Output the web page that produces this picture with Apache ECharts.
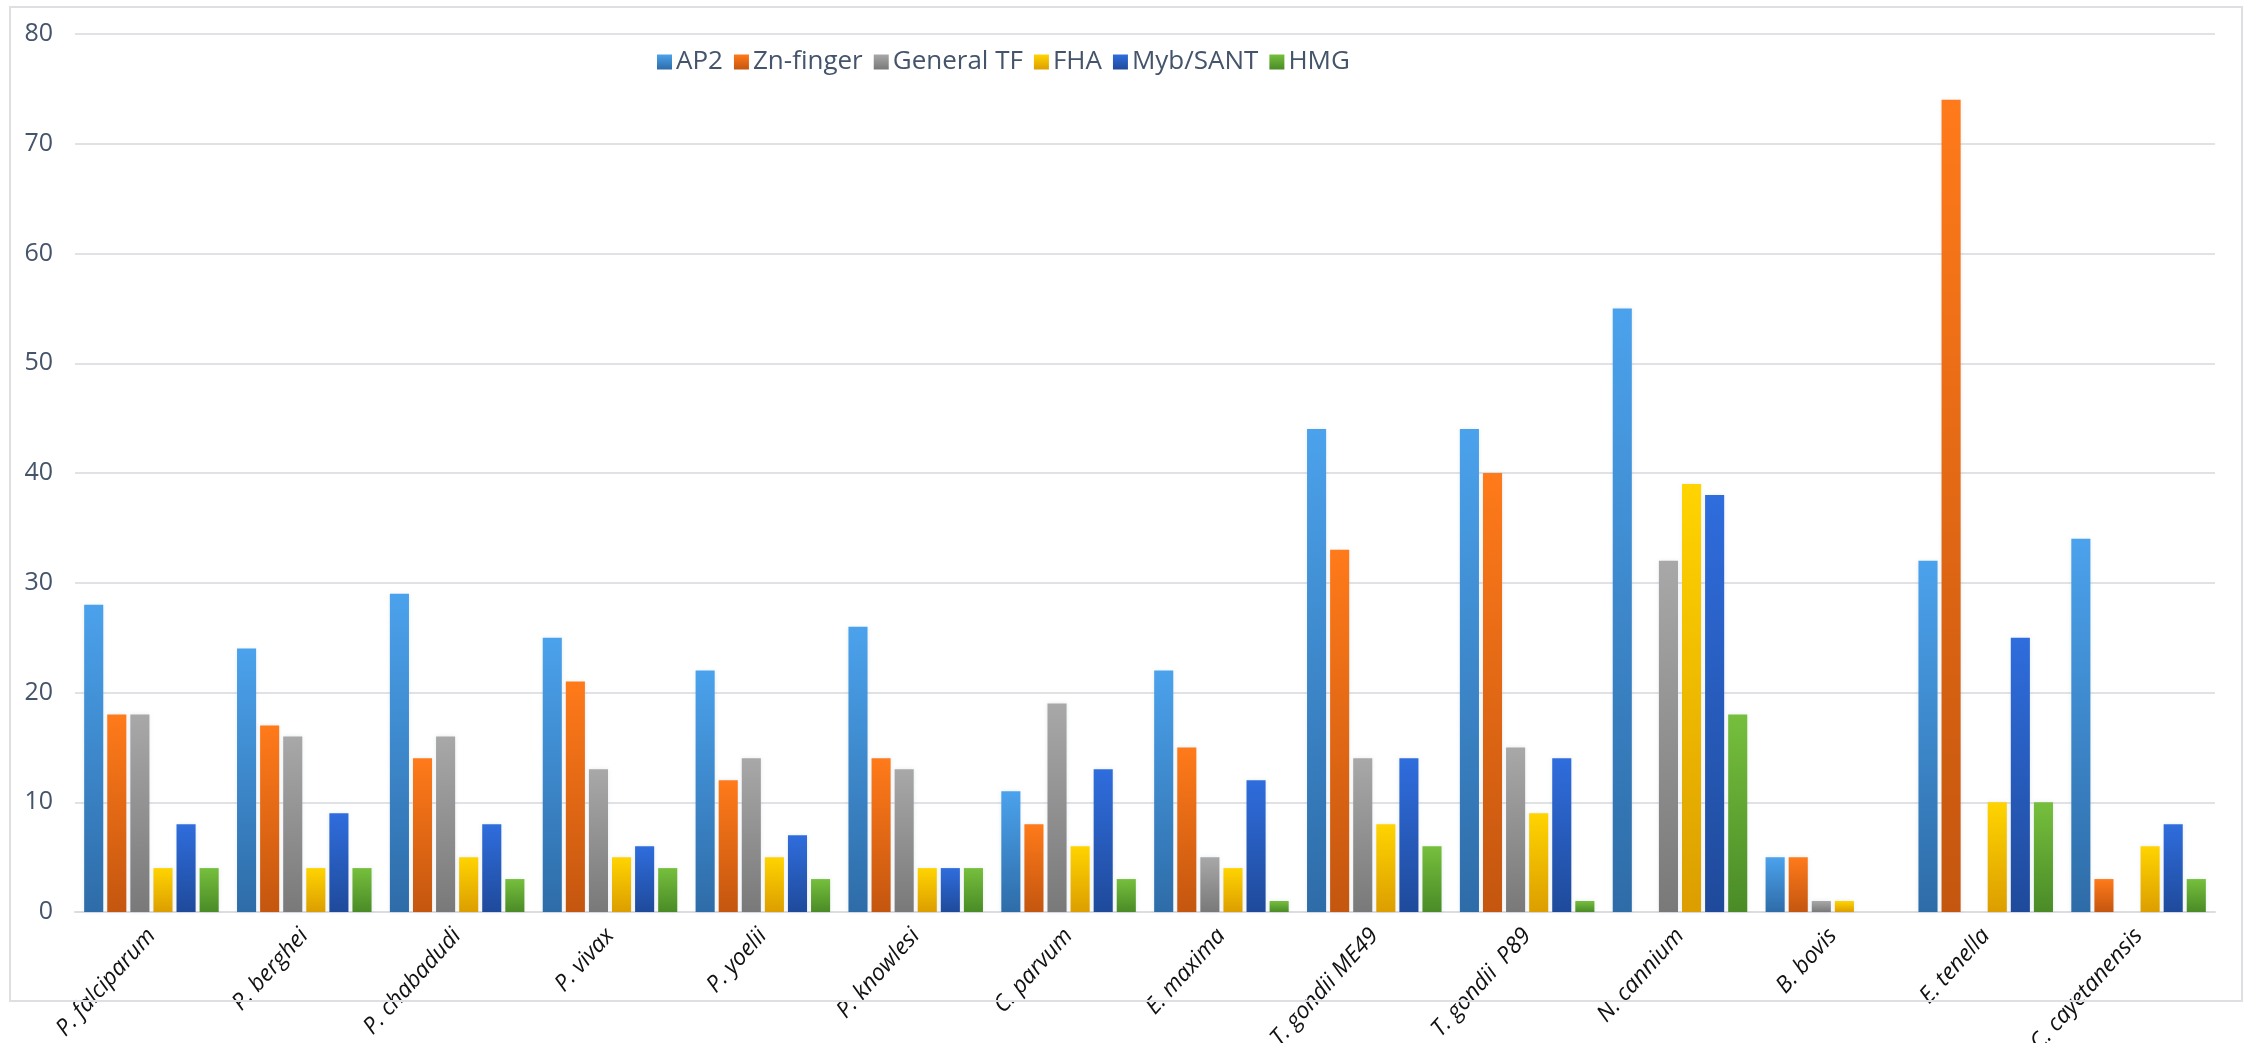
<!DOCTYPE html>
<html>
<head>
<meta charset="utf-8">
<title>Transcription factor families across apicomplexan species</title>
<script src="https://cdn.jsdelivr.net/npm/echarts@6/dist/echarts.min.js"></script>
<style>
  html, body { margin: 0; padding: 0; background: #ffffff; }
  #chart { position: absolute; left: 0; top: 0; width: 2249px; height: 1043px; }
  #frame { position: absolute; left: 9px; top: 6px; width: 2230px; height: 992px;
           border: 2px solid #dedfe2; pointer-events: none; }
</style>
</head>
<body>
<div id="chart"></div>
<div id="frame"></div>
<script>
// Species (x-axis categories)
const species = [
  'P. falciparum', 'P. berghei', 'P. chabadudi', 'P. vivax', 'P. yoelii',
  'P. knowlesi', 'C. parvum', 'E. maxima', 'T. gondii ME49', 'T. gondii  P89',
  'N. cannium', 'B. bovis', 'E. tenella', 'C. cayetanensis'
];

// Number of transcription factors per family
const ap2        = [28, 24, 29, 25, 22, 26, 11, 22, 44, 44, 55, 5, 32, 34];
const znFinger   = [18, 17, 14, 21, 12, 14,  8, 15, 33, 40,  0, 5, 74,  3];
const generalTF  = [18, 16, 16, 13, 14, 13, 19,  5, 14, 15, 32, 1,  0,  0];
const fha        = [ 4,  4,  5,  5,  5,  4,  6,  4,  8,  9, 39, 1, 10,  6];
const mybSant    = [ 8,  9,  8,  6,  7,  4, 13, 12, 14, 14, 38, 0, 25,  8];
const hmg        = [ 4,  4,  3,  4,  3,  4,  3,  1,  6,  1, 18, 0, 10,  3];

// Value axis ticks
const yTicks = [0, 10, 20, 30, 40, 50, 60, 70, 80];

const families = [
  { name: 'AP2',        data: ap2,       top: '#4ba2ec', bottom: '#2e6ca8' },
  { name: 'Zn-finger',  data: znFinger,  top: '#ff7a1a', bottom: '#c4560f' },
  { name: 'General TF', data: generalTF, top: '#a8a8a8', bottom: '#797979' },
  { name: 'FHA',        data: fha,       top: '#ffd400', bottom: '#dc9e00' },
  { name: 'Myb/SANT',   data: mybSant,   top: '#2f6ddd', bottom: '#1f4a9b' },
  { name: 'HMG',        data: hmg,       top: '#76bf3d', bottom: '#4a8b27' }
];

const axisTextColor = '#44546a';

const chart = echarts.init(document.getElementById('chart'), null, { renderer: 'canvas' });

chart.setOption({
  backgroundColor: '#ffffff',
  animation: false,
  legend: {
    left: 652,
    top: 44,
    itemWidth: 15,
    itemHeight: 15,
    itemGap: 11,
    icon: 'rect',
    textStyle: { fontFamily: 'Open Sans', fontSize: 26, color: axisTextColor, padding: [0, 0, 0, -1] },
    data: families.map(f => f.name)
  },
  grid: { left: 75, right: 34, top: 34, bottom: 131, containLabel: false, outerBoundsMode: 'none' },
  xAxis: {
    type: 'category',
    data: species,
    axisTick: { show: false },
    axisLine: { show: true, lineStyle: { color: '#dcdde1', width: 2 } },
    axisLabel: {
      interval: 0,
      rotate: 48,
      margin: 20,
      fontFamily: 'Open Sans',
      fontStyle: 'italic',
      fontSize: 23,
      color: '#111111'
    }
  },
  yAxis: {
    type: 'value',
    min: yTicks[0],
    max: yTicks[yTicks.length - 1],
    interval: yTicks[1] - yTicks[0],
    axisLine: { show: false },
    axisTick: { show: false },
    splitLine: { lineStyle: { color: '#e1e2e6', width: 2 } },
    axisLabel: {
      margin: 22,
      fontFamily: 'Open Sans',
      fontSize: 25,
      color: axisTextColor
    }
  },
  series: families.map(f => ({
    name: f.name,
    type: 'bar',
    data: f.data,
    barGap: '21%',
    barCategoryGap: '12%',
    itemStyle: {
      color: new echarts.graphic.LinearGradient(0, 0, 0, 1, [
        { offset: 0, color: f.top },
        { offset: 1, color: f.bottom }
      ]),
      shadowBlur: 4,
      shadowColor: 'rgba(120,140,170,0.18)'
    }
  }))
});
</script>
</body>
</html>
